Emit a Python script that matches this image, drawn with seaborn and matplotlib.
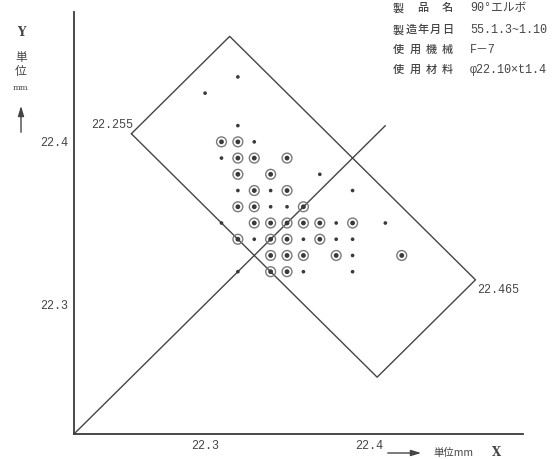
import matplotlib
matplotlib.use("Agg")
import matplotlib.pyplot as plt
import seaborn as sns
import pandas as pd

sns.set_theme(style="white")
plt.rcParams['font.family'] = ['Liberation Mono', 'Noto Sans CJK JP', 'DejaVu Sans']

# measured elbow points (X, Y) in mm; kind 1 = single dot, 2 = circled dot
pt_x = [22.32,
        22.30,
        22.32,
        22.31, 22.32, 22.33,
        22.31, 22.32, 22.33, 22.35,
        22.32, 22.34, 22.37,
        22.32, 22.33, 22.34, 22.35, 22.39,
        22.32, 22.33, 22.34, 22.35, 22.36,
        22.31, 22.33, 22.34, 22.35, 22.36, 22.37, 22.38, 22.39, 22.41,
        22.32, 22.33, 22.34, 22.35, 22.36, 22.37, 22.38, 22.39,
        22.34, 22.35, 22.36, 22.38, 22.39, 22.42,
        22.32, 22.34, 22.35, 22.36, 22.39]
pt_y = [22.44,
        22.43,
        22.41,
        22.40, 22.40, 22.40,
        22.39, 22.39, 22.39, 22.39,
        22.38, 22.38, 22.38,
        22.37, 22.37, 22.37, 22.37, 22.37,
        22.36, 22.36, 22.36, 22.36, 22.36,
        22.35, 22.35, 22.35, 22.35, 22.35, 22.35, 22.35, 22.35, 22.35,
        22.34, 22.34, 22.34, 22.34, 22.34, 22.34, 22.34, 22.34,
        22.33, 22.33, 22.33, 22.33, 22.33, 22.33,
        22.32, 22.32, 22.32, 22.32, 22.32]
pt_kind = [1,
           1,
           1,
           2, 2, 1,
           1, 2, 2, 2,
           2, 2, 1,
           1, 2, 1, 2, 1,
           2, 2, 1, 1, 2,
           1, 2, 2, 2, 2, 2, 1, 2, 1,
           2, 1, 2, 2, 1, 2, 1, 1,
           2, 2, 2, 2, 1, 2,
           1, 2, 2, 1, 1]

# tolerance zone corners: left, top, right, bottom
rect_x = [22.255, 22.315, 22.465, 22.405, 22.255]
rect_y = [22.405, 22.465, 22.315, 22.255, 22.405]
diag_xy = [22.22, 22.41]
x_ticks = [22.3, 22.4]
y_ticks = [22.3, 22.4]

info_keys = ["製品名", "製造年月日", "使用機械", "使用材料"]
info_vals = ["90°エルボ", "55.1.3~1.10", "F－7", "φ22.10×t1.4"]

ink = "#454545"
fig = plt.figure(figsize=(5.59, 4.59), dpi=100)
ax = fig.add_axes([74 / 559, 1 - 434 / 459, 449 / 559, 422 / 459])

df = pd.DataFrame({"x": pt_x, "y": pt_y, "kind": pt_kind})
sns.scatterplot(data=df, x="x", y="y", size="kind", sizes={1: 7, 2: 12},
                color="#3a3a3a", edgecolor="none", legend=False, ax=ax, zorder=4)
sns.scatterplot(data=df[df["kind"] == 2], x="x", y="y", s=50, facecolor="none",
                edgecolor="#7a7a7a", linewidth=1.0, legend=False, ax=ax, zorder=3)

ax.plot(rect_x, rect_y, color=ink, lw=1.0, zorder=2)
ax.plot(diag_xy, diag_xy, color=ink, lw=1.0, zorder=2)

ax.annotate("22.255", (rect_x[0], rect_y[0]), xytext=(1.5, 6.5), textcoords="offset points",
            ha="right", va="center", fontsize=8.5, color=ink)
ax.annotate("22.465", (rect_x[2], rect_y[2]), xytext=(1.5, -7), textcoords="offset points",
            ha="left", va="center", fontsize=8.5, color=ink)

ax.set_xlim(22.22, 22.494)
ax.set_ylim(22.22, 22.48)
ax.set_xticks(x_ticks)
ax.set_yticks(y_ticks)
ax.set_xticklabels([f"{v:.1f}" for v in x_ticks])
ax.set_yticklabels([f"{v:.1f}" for v in y_ticks])
ax.tick_params(direction="inout", length=6, width=0.8, color=ink,
               labelsize=8.5, labelcolor=ink, pad=1.5)
ax.set_xlabel("")
ax.set_ylabel("")
for side in ["top", "right"]:
    ax.spines[side].set_visible(False)
for side in ["left", "bottom"]:
    ax.spines[side].set_color("#3a3a3a")
    ax.spines[side].set_linewidth(1.3)
ax.set_facecolor("none")

# Y axis caption (vertical stack) and arrow
fig.text(21 / 559, 1 - 32 / 459, "Y", ha="center", va="center", fontsize=8.5,
         color=ink, family=["DejaVu Serif"], weight="bold")
fig.text(21 / 559, 1 - 57 / 459, "単", ha="center", va="center", fontsize=8.5, color=ink,
         family=["Noto Sans CJK JP"])
fig.text(21 / 559, 1 - 72 / 459, "位", ha="center", va="center", fontsize=8.5, color=ink,
         family=["Noto Sans CJK JP"])
fig.text(21 / 559, 1 - 88 / 459, "mm", ha="center", va="center", fontsize=6, color=ink,
         family=["DejaVu Serif"])
ax.annotate("", xy=(21, 459 - 103), xytext=(21, 459 - 135), xycoords="figure pixels",
            textcoords="figure pixels",
            arrowprops=dict(arrowstyle="-|>,head_length=0.5,head_width=0.15", color=ink, lw=1.0))

# X axis caption and arrow
ax.annotate("", xy=(424, 459 - 453), xytext=(385, 459 - 453), xycoords="figure pixels",
            textcoords="figure pixels",
            arrowprops=dict(arrowstyle="-|>,head_length=0.5,head_width=0.15", color=ink, lw=1.0))
fig.text(433 / 559, 1 - 453 / 459, "単位mm", ha="left", va="center", fontsize=7.5, color=ink,
         family=["Noto Sans CJK JP"])
fig.text(496 / 559, 1 - 453 / 459, "X", ha="center", va="center", fontsize=8.5, color=ink,
         family=["DejaVu Serif"], weight="bold")

# header block, labels spread over a fixed width
row_y = [8, 30, 50, 70]
for key, val, py in zip(info_keys, info_vals, row_y):
    n = len(key)
    x0, x1 = 398.5, 447.5
    for i, ch in enumerate(key):
        cx = x0 + (x1 - x0) * i / (n - 1)
        fig.text(cx / 559, 1 - py / 459, ch, ha="center", va="center", fontsize=8,
                 color=ink, family=["Noto Sans CJK JP"], weight="medium")
    fig.text(470 / 559, 1 - py / 459, val, ha="left", va="center", fontsize=8.5, color=ink,
             family=["Liberation Mono", "Noto Sans CJK JP"])

fig.savefig("out.png", dpi=100)
